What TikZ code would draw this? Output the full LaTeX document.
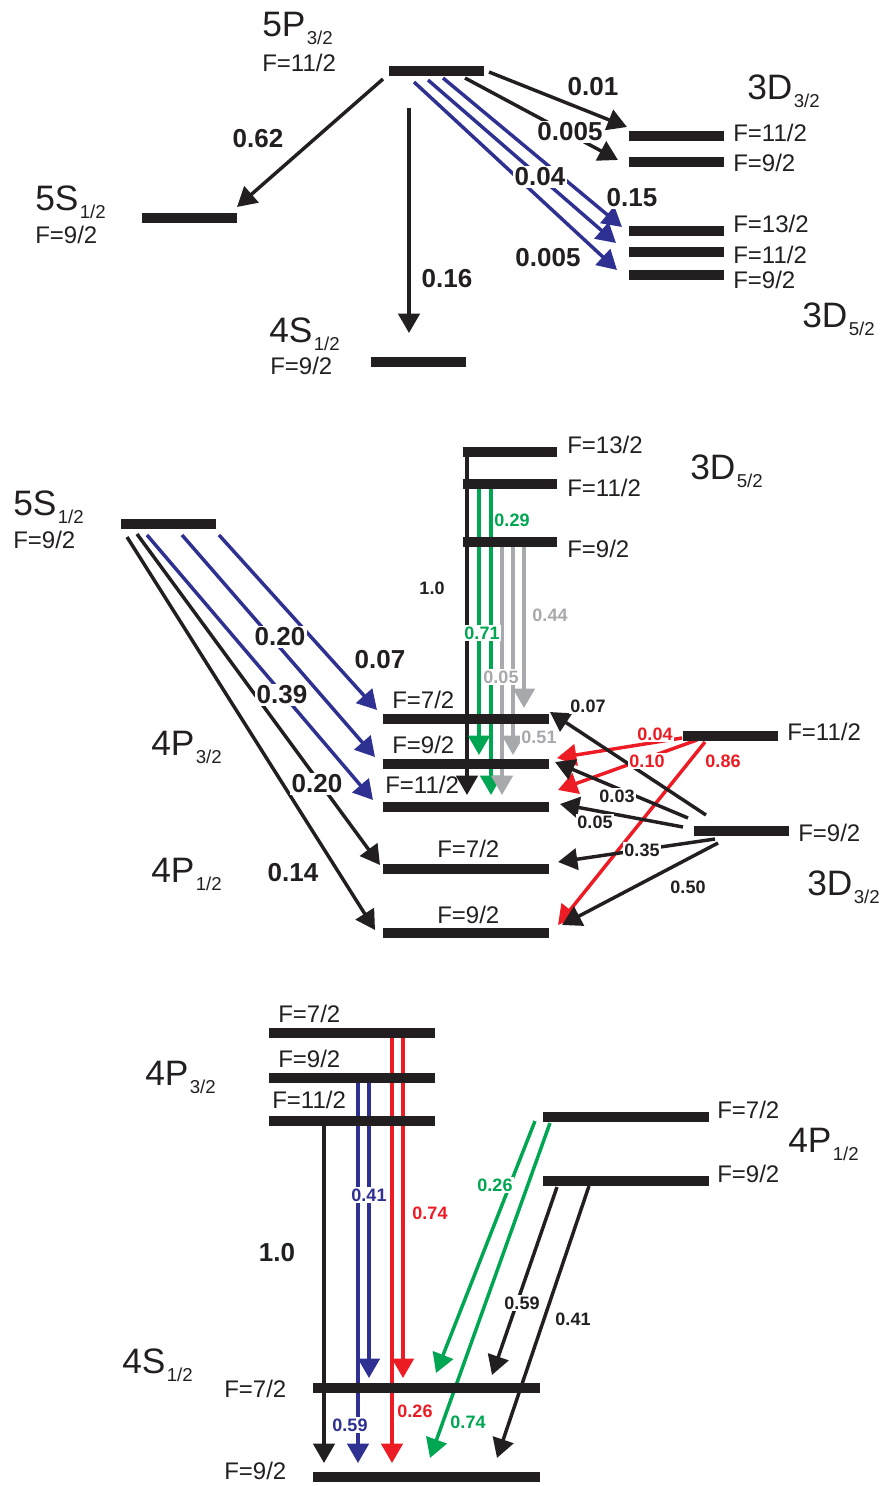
\documentclass[tikz,border=0pt]{standalone}
\usepackage{fontspec}
\setmainfont{Liberation Sans}
\usepackage{tikz}
\usetikzlibrary{arrows.meta, calc, backgrounds, positioning}
\definecolor{Ink}{HTML}{231F20}
\definecolor{DecayBlue}{HTML}{2E3192}
\definecolor{DecayRed}{HTML}{ED1C24}
\definecolor{DecayGreen}{HTML}{00A651}
\definecolor{DecayGray}{HTML}{A7A9AC}
\newcommand{\levsub}[1]{\kern1pt\raisebox{-6pt}{\fontsize{14}{15}\selectfont #1}}
\tikzset{
  levelbar/.style={rectangle, fill=Ink, inner sep=0pt, minimum height=6.8pt, minimum width=#1*0.75pt},
  levelbar/.default=95,
  termlabel/.style={anchor=base west, inner sep=0pt, font=\fontsize{26.5}{28}\selectfont, text=Ink},
  flabel/.style={anchor=base west, inner sep=0pt, font=\fontsize{18}{20}\selectfont, text=Ink},
  bigval/.style={fill=white, inner sep=1pt, font=\fontsize{19.5}{21}\selectfont\bfseries, text=Ink},
  smallval/.style={fill=white, inner sep=1pt, font=\fontsize{13.5}{15}\selectfont\bfseries, text=Ink},
  decay/.style={-{Triangle[length=14.5pt, width=16pt]}, line width=2.6pt, Ink},
  bluedecay/.style={decay, DecayBlue},
  reddecay/.style={decay, DecayRed},
  greendecay/.style={decay, DecayGreen},
  graydecay/.style={decay, DecayGray}
}
\begin{document}
\begin{tikzpicture}[x=0.75pt, y=-0.75pt]
  \useasboundingbox (0,0) rectangle (885,1486);

  % top: 5P3/2
  \node[levelbar] (t5P) at (436.5,71) {};
  \node[levelbar] (t5S) at (189.5,218) {};
  \node[levelbar] (t4S) at (418.5,362) {};
  \node[levelbar=95] (t3Da) at (676,136) {};
  \node[levelbar=95] (t3Db) at (676,162) {};
  \node[levelbar=95] (t5Da) at (676,231) {};
  \node[levelbar=95] (t5Db) at (676,252) {};
  \node[levelbar=95] (t5Dc) at (676,275) {};

  \node[termlabel] (t5Pname) at (262,36) {5P\levsub{3/2}};
  \node[flabel] (t5PF) at (262,71) {F=11/2};
  \node[termlabel] (t5Sname) at (35,210) {5S\levsub{1/2}};
  \node[flabel] (t5SF) at (35,243) {F=9/2};
  \node[termlabel] (t4Sname) at (269,342) {4S\levsub{1/2}};
  \node[flabel] (t4SF) at (270,374) {F=9/2};
  \node[termlabel] (t3Dname) at (747,99) {3D\levsub{3/2}};
  \node[flabel] (t3DaF) at (733,141) {F=11/2};
  \node[flabel] (t3DbF) at (733,171) {F=9/2};
  \node[flabel] (t5DaF) at (733,232) {F=13/2};
  \node[flabel] (t5DbF) at (733,263) {F=11/2};
  \node[flabel] (t5DcF) at (733,288) {F=9/2};
  \node[termlabel] (t5Dname) at (802,327) {3D\levsub{5/2}};

  \begin{scope}[on background layer]
    \draw[decay] ($(t5P)+(-53.5,8)$) -- ($(t5S)+(47.5,-11)$);
    \draw[decay] ($(t5P)+(-27.5,37)$) -- ($(t4S)+(-9.5,-29)$);
    \draw[decay] ($(t5P)+(52.5,1)$) -- ($(t3Da)+(-49,-9)$);
    \draw[decay] ($(t5P)+(28.5,7)$) -- ($(t3Db)+(-58,-2)$);
    \draw[bluedecay] ($(t5P)+(6.5,7)$) -- ($(t5Da)+(-54,-4)$);
    \draw[bluedecay] ($(t5P)+(-8.5,9)$) -- ($(t5Db)+(-60,-9)$);
    \draw[bluedecay] ($(t5P)+(-22.5,11)$) -- ($(t5Dc)+(-59,-5)$);
  \end{scope}

  \node[bigval] (v062) at (258,139) {0.62};
  \node[bigval] (v016) at (447,279) {0.16};
  \node[bigval] (v001) at (593,87) {0.01};
  \node[bigval] (v0005a) at (570,132) {0.005};
  \node[bigval] (v004) at (540,177) {0.04};
  \node[bigval] (v015) at (632,198) {0.15};
  \node[bigval] (v0005b) at (548,258) {0.005};

  % middle: 5S1/2 and 3D
  \node[levelbar] (m5S) at (168.5,524) {};
  \node[levelbar=166] (mP3a) at (466,719) {};
  \node[levelbar=166] (mP3b) at (466,764) {};
  \node[levelbar=166] (mP3c) at (466,807) {};
  \node[levelbar=166] (mP1a) at (466,869) {};
  \node[levelbar=166] (mP1b) at (466,933) {};
  \node[levelbar=94] (mD5a) at (510,452) {};
  \node[levelbar=94] (mD5b) at (510,484) {};
  \node[levelbar=94] (mD5c) at (510,542) {};
  \node[levelbar] (mD3a) at (730.5,736) {};
  \node[levelbar] (mD3b) at (741.5,831) {};

  \node[termlabel] (m5Sname) at (13,515) {5S\levsub{1/2}};
  \node[flabel] (m5SF) at (13,548) {F=9/2};
  \node[termlabel] (mP3name) at (151,755) {4P\levsub{3/2}};
  \node[termlabel] (mP1name) at (151,882) {4P\levsub{1/2}};
  \node[flabel] (mP3aF) at (392,708) {F=7/2};
  \node[flabel] (mP3bF) at (392,753) {F=9/2};
  \node[flabel] (mP3cF) at (385,793) {F=11/2};
  \node[flabel] (mP1aF) at (437,857) {F=7/2};
  \node[flabel] (mP1bF) at (437,923) {F=9/2};
  \node[flabel] (mD5aF) at (567,453) {F=13/2};
  \node[flabel] (mD5bF) at (567,496) {F=11/2};
  \node[flabel] (mD5cF) at (567,557) {F=9/2};
  \node[termlabel] (mD5name) at (690,479) {3D\levsub{5/2}};
  \node[flabel] (mD3aF) at (787,740) {F=11/2};
  \node[flabel] (mD3bF) at (798,841) {F=9/2};
  \node[termlabel] (mD3name) at (807,895) {3D\levsub{3/2}};

  \begin{scope}[on background layer]
    \draw[decay] ($(m5S)+(-41.5,13)$) -- ($(mP1b)+(-91,-3)$);
    \draw[decay] ($(m5S)+(-31.5,10)$) -- ($(mP1a)+(-86,-4)$);
    \draw[bluedecay] ($(m5S)+(-21.5,11)$) -- ($(mP3c)+(-93,-7)$);
    \draw[bluedecay] ($(m5S)+(13.5,11)$) -- ($(mP3b)+(-91,-7)$);
    \draw[bluedecay] ($(m5S)+(50.5,11)$) -- ($(mP3a)+(-89,-9)$);

    \draw[decay] ($(mD5a)+(-43,0)$) -- ($(mP3c)+(1,-12)$);
    \draw[greendecay] ($(mD5b)+(-31,0)$) -- ($(mP3b)+(13,-9)$);
    \draw[greendecay] ($(mD5b)+(-19,0)$) -- ($(mP3c)+(25,-12)$);
    \draw[graydecay] ($(mD5c)+(-8,0)$) -- ($(mP3c)+(36,-12)$);
    \draw[graydecay] ($(mD5c)+(3,0)$) -- ($(mP3b)+(47,-9)$);
    \draw[graydecay] ($(mD5c)+(14,0)$) -- ($(mP3a)+(58,-11)$);

    \draw[reddecay] ($(mD3a)+(-48.5,2)$) -- ($(mP3b)+(91,-6)$);
    \draw[reddecay] ($(mD3a)+(-33.5,4)$) -- ($(mP3c)+(92,-17)$);
    \draw[reddecay] ($(mD3a)+(-25.5,6)$) -- ($(mP1b)+(92,-8)$);

    \draw[decay] ($(mD3b)+(-35.5,-16)$) -- ($(mP3a)+(84,-7)$);
    \draw[decay] ($(mD3b)+(-53.5,-13)$) -- ($(mP3b)+(89,-2)$);
    \draw[decay] ($(mD3b)+(-58.5,-4)$) -- ($(mP3c)+(94,-3)$);
    \draw[decay] ($(mD3b)+(-26.5,8)$) -- ($(mP1a)+(92,-7)$);
    \draw[decay] ($(mD3b)+(-23.5,12)$) -- ($(mP1b)+(96,-8)$);
  \end{scope}

  \node[bigval] (v020a) at (280,637) {0.20};
  \node[bigval] (v007a) at (380,660) {0.07};
  \node[bigval] (v039) at (282,695) {0.39};
  \node[bigval] (v020b) at (317,784) {0.20};
  \node[bigval] (v014) at (293,873) {0.14};
  \node[smallval] (v10a) at (432,588) {1.0};
  \node[smallval, text=DecayGreen] (v029) at (512,520) {0.29};
  \node[smallval, text=DecayGreen] (v071) at (482,633) {0.71};
  \node[smallval, text=DecayGray] (v005a) at (501,677) {0.05};
  \node[smallval, text=DecayGray] (v044) at (550,615) {0.44};
  \node[smallval, text=DecayGray] (v051) at (539,737) {0.51};
  \node[smallval, text=DecayRed] (v004r) at (655,734) {0.04};
  \node[smallval, text=DecayRed] (v010) at (647,761) {0.10};
  \node[smallval, text=DecayRed] (v086) at (723,761) {0.86};
  \node[smallval] (v007b) at (588,706) {0.07};
  \node[smallval] (v003) at (617,796) {0.03};
  \node[smallval] (v005b) at (595,822) {0.05};
  \node[smallval] (v035) at (642,850) {0.35};
  \node[smallval] (v050) at (688,887) {0.50};

  % bottom: 4P to 4S
  \node[levelbar=166] (bP3a) at (352,1033) {};
  \node[levelbar=166] (bP3b) at (352,1078) {};
  \node[levelbar=166] (bP3c) at (352,1121) {};
  \node[levelbar=227] (bS4a) at (426.5,1388) {};
  \node[levelbar=227] (bS4b) at (426.5,1477) {};
  \node[levelbar=166] (bP1a) at (626,1117) {};
  \node[levelbar=166] (bP1b) at (626,1181) {};

  \node[flabel] (bP3aF) at (278,1022) {F=7/2};
  \node[flabel] (bP3bF) at (278,1067) {F=9/2};
  \node[flabel] (bP3cF) at (272,1108) {F=11/2};
  \node[termlabel] (bP3name) at (145,1085) {4P\levsub{3/2}};
  \node[termlabel] (bS4name) at (122,1373) {4S\levsub{1/2}};
  \node[flabel] (bS4aF) at (224,1397) {F=7/2};
  \node[flabel] (bS4bF) at (224,1479) {F=9/2};
  \node[flabel] (bP1aF) at (717,1118) {F=7/2};
  \node[flabel] (bP1bF) at (717,1182) {F=9/2};
  \node[termlabel] (bP1name) at (788,1152) {4P\levsub{1/2}};

  \begin{scope}[on background layer]
    \draw[decay] ($(bP3c)+(-28,0)$) -- ($(bS4b)+(-102.5,-14)$);
    \draw[bluedecay] ($(bP3b)+(6,0)$) -- ($(bS4b)+(-68.5,-14)$);
    \draw[bluedecay] ($(bP3b)+(17,0)$) -- ($(bS4a)+(-57.5,-10)$);
    \draw[reddecay] ($(bP3a)+(40,0)$) -- ($(bS4b)+(-34.5,-14)$);
    \draw[reddecay] ($(bP3a)+(51,0)$) -- ($(bS4a)+(-23.5,-10)$);
    \draw[greendecay] ($(bP1a)+(-91,4)$) -- ($(bS4a)+(9.5,-15)$);
    \draw[greendecay] ($(bP1a)+(-76,6)$) -- ($(bS4b)+(3.5,-19)$);
    \draw[decay] ($(bP1b)+(-69,6)$) -- ($(bS4a)+(65.5,-13)$);
    \draw[decay] ($(bP1b)+(-37,5)$) -- ($(bS4b)+(70.5,-19)$);
  \end{scope}

  \node[bigval] (v10b) at (277,1253) {1.0};
  \node[smallval, text=DecayBlue] (v041a) at (369,1195) {0.41};
  \node[smallval, text=DecayBlue] (v059a) at (350,1425) {0.59};
  \node[smallval, text=DecayRed] (v074a) at (430,1213) {0.74};
  \node[smallval, text=DecayRed] (v026a) at (415,1411) {0.26};
  \node[smallval, text=DecayGreen] (v026b) at (495,1185) {0.26};
  \node[smallval, text=DecayGreen] (v074b) at (468,1422) {0.74};
  \node[smallval] (v059b) at (522,1303) {0.59};
  \node[smallval] (v041b) at (573,1319) {0.41};
\end{tikzpicture}
\end{document}
